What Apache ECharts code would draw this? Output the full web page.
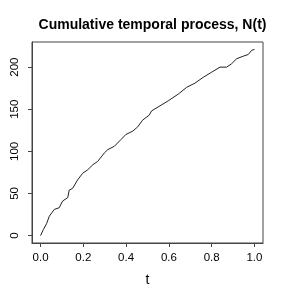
<!DOCTYPE html>
<html>
<head>
<meta charset="utf-8">
<script src="https://cdn.jsdelivr.net/npm/echarts@6/dist/echarts.min.js"></script>
<style>html,body{margin:0;padding:0;background:#fff;}#c{width:296px;height:296px;}</style>
</head>
<body>
<div id="c"></div>
<script>
// Event times (t) and cumulative counts N(t)
var tVals = [0, 0.013, 0.028, 0.041, 0.064, 0.087, 0.103, 0.127, 0.134, 0.150, 0.173, 0.197, 0.220, 0.244, 0.267, 0.298, 0.314, 0.345, 0.376, 0.399, 0.431, 0.454, 0.477, 0.508, 0.519, 0.558, 0.597, 0.644, 0.683, 0.722, 0.761, 0.800, 0.839, 0.870, 0.893, 0.917, 0.948, 0.971, 0.987, 1.0];
var nVals = [0, 7, 14, 23, 31, 33, 41, 45, 54, 56, 66, 74, 78, 84, 88, 98, 102, 106, 114, 120, 124, 129, 137, 143, 148, 154, 160, 168, 176, 181, 188, 194, 200, 200, 204, 210, 213, 215, 220, 221];
var xTicks = [0, 0.2, 0.4, 0.6, 0.8, 1.0];
var yTicks = [0, 50, 100, 150, 200];

var pts = tVals.map(function (t, i) { return [t, nVals[i]]; });
var chart = echarts.init(document.getElementById('c'), null, {renderer: 'canvas'});
var font = 'Liberation Sans, Arial, Helvetica, sans-serif';
chart.setOption({
  animation: false,
  backgroundColor: '#fff',
  title: {
    text: 'Cumulative temporal process, N(t)',
    left: 147.5, top: 13, textAlign: 'center',
    textStyle: {fontFamily: font, fontSize: 14, fontWeight: 'bold', color: '#000'}
  },
  grid: {left: 32, top: 42, width: 231, height: 201, show: true, borderColor: '#444', borderWidth: 1, backgroundColor: 'transparent'},
  xAxis: {
    type: 'value', min: -0.04, max: 1.04,
    name: 't', nameLocation: 'middle', nameGap: 30,
    nameTextStyle: {fontFamily: font, fontSize: 14, color: '#000'},
    axisLine: {show: true, onZero: false, lineStyle: {color: '#444', width: 1}},
    axisTick: {show: true, length: 4, lineStyle: {color: '#444'}, customValues: xTicks},
    axisLabel: {customValues: xTicks, margin: 9, fontFamily: font, fontSize: 11.5, color: '#000',
      formatter: function (v) { return v.toFixed(1); }},
    splitLine: {show: false}
  },
  yAxis: {
    type: 'value', min: -8.84, max: 229.84,
    axisLine: {show: true, onZero: false, lineStyle: {color: '#444', width: 1}},
    axisTick: {show: true, length: 4, lineStyle: {color: '#444'}, customValues: yTicks},
    axisLabel: {customValues: yTicks, rotate: 90, margin: 11, fontFamily: font, fontSize: 11.5, color: '#000'},
    splitLine: {show: false}
  },
  series: [{
    type: 'line', data: pts, showSymbol: false, symbol: 'none',
    lineStyle: {color: '#222', width: 1}
  }]
});
</script>
</body>
</html>
